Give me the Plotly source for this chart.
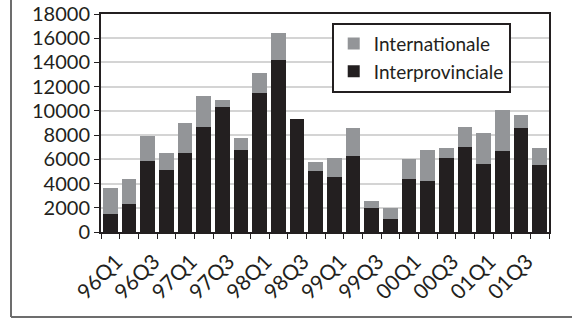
import plotly.graph_objects as go

quarters = ["96Q1","96Q2","96Q3","96Q4","97Q1","97Q2","97Q3","97Q4",
            "98Q1","98Q2","98Q3","98Q4","99Q1","99Q2","99Q3","99Q4",
            "00Q1","00Q2","00Q3","00Q4","01Q1","01Q2","01Q3","01Q4"]
tick_labels = ["96Q1","96Q3","97Q1","97Q3","98Q1","98Q3","99Q1","99Q3",
               "00Q1","00Q3","01Q1","01Q3"]
interprovinciale = [1500, 2350, 5900, 5100, 6500, 8700, 10350, 6800,
                    11500, 14200, 9300, 5050, 4550, 6300, 1950, 1100,
                    4400, 4250, 6150, 7050, 5650, 6700, 8600, 5550]
totals = [3600, 4350, 7900, 6500, 9000, 11200, 10900, 7800,
          13150, 16450, 9300, 5800, 6150, 8550, 2600, 1950,
          6050, 6800, 6950, 8700, 8200, 10100, 9700, 6900]
internationale = [t - p for t, p in zip(totals, interprovinciale)]

x = list(range(len(quarters)))
FONT = "Lato, 'Open Sans', sans-serif"

fig = go.Figure()
fig.add_trace(go.Bar(x=x, y=interprovinciale, name="Interprovinciale",
                     marker=dict(color="#231f20", line=dict(width=0)),
                     customdata=quarters))
fig.add_trace(go.Bar(x=x, y=internationale, name="Internationale",
                     marker=dict(color="#939598", line=dict(width=0)),
                     customdata=quarters))

W, H = 572, 318
L, R, T, B = 101, 23, 14, 86
fig.update_layout(
    width=W, height=H,
    margin=dict(l=L, r=R, t=T, b=B, pad=0, autoexpand=False),
    barmode="stack", bargap=0.21,
    paper_bgcolor="white", plot_bgcolor="white",
    font=dict(family=FONT, size=20, color="#231f20"),
    legend=dict(x=0.515, y=0.96, xanchor="left", yanchor="top",
                traceorder="reversed", bgcolor="white",
                bordercolor="#231f20", borderwidth=2,
                font=dict(size=19), itemwidth=30, tracegroupgap=0),
    showlegend=True,
)
fig.update_xaxes(
    range=[-0.5, len(quarters) - 0.5], automargin=False,
    tickmode="array", tickvals=x[::2], ticktext=tick_labels,
    tickangle=-45, ticks="", showgrid=False,
    ticklabelstandoff=7, ticklabelshift=6,
    showline=True, linecolor="#231f20", linewidth=2, mirror=True,
    tickfont=dict(size=21),
    minor=dict(tickvals=[i - 0.5 for i in range(len(quarters) + 1)],
               ticks="outside", ticklen=5, tickwidth=1, tickcolor="#231f20",
               showgrid=False),
)
fig.update_yaxes(
    range=[0, 18000], dtick=2000, tick0=0, tickformat="d", automargin=False,
    ticks="outside", ticklen=5, tickwidth=1, tickcolor="#231f20",
    showgrid=True, gridcolor="#d4d4d4", gridwidth=2,
    showline=True, linecolor="#231f20", linewidth=2, mirror=True,
    tickfont=dict(size=20), zeroline=False,
)

pw, ph = W - L - R, H - T - B
def px_x(p):
    return (p - L) / pw
def px_y(p):
    return (H - B - p) / ph

fig.add_shape(type="line", xref="paper", yref="paper",
              x0=px_x(11), x1=px_x(11), y0=px_y(0), y1=px_y(317),
              line=dict(color="#6d6d6d", width=2))
fig.add_shape(type="line", xref="paper", yref="paper",
              x0=px_x(11), x1=px_x(572), y0=px_y(317), y1=px_y(317),
              line=dict(color="#6d6d6d", width=2))

fig.write_html("out.html", config={"displayModeBar": False, "staticPlot": True},
               post_script="document.body.style.margin='0';document.body.style.overflow='hidden';")
